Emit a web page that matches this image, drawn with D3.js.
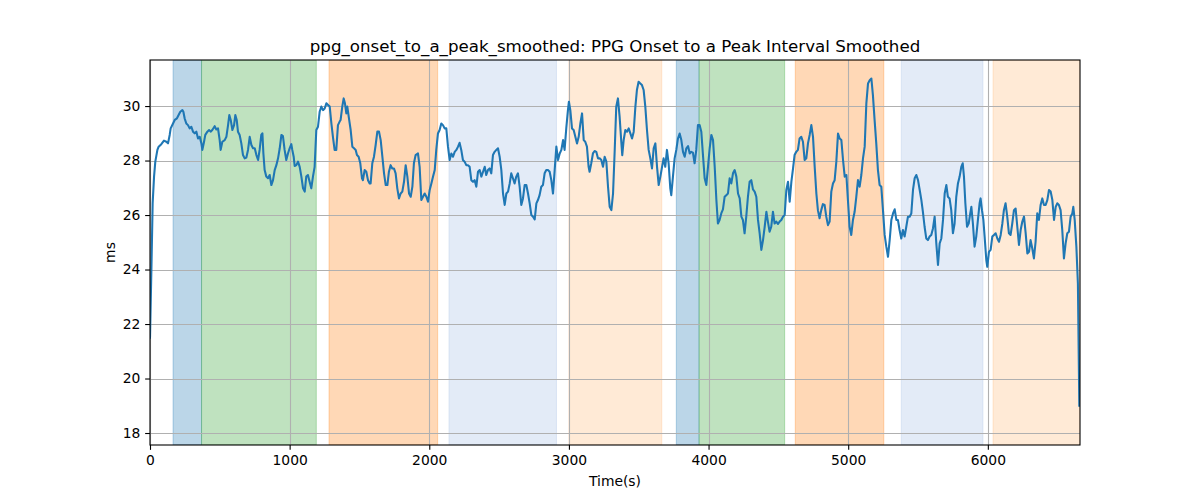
<!DOCTYPE html>
<html>
<head>
<meta charset="utf-8">
<script src="https://cdn.jsdelivr.net/npm/d3@7"></script>
<style>
  html, body { margin: 0; padding: 0; background: #fff; }
  svg { display: block; font-family: "DejaVu Sans", sans-serif; }
</style>
</head>
<body>
<svg id="chart" width="1200" height="500"></svg>
<script>
// ---------- data ----------
const chartTitle = "ppg_onset_to_a_peak_smoothed: PPG Onset to a Peak Interval Smoothed";
const xLabel = "Time(s)";
const yLabel = "ms";
const xTicks = [0, 1000, 2000, 3000, 4000, 5000, 6000];
const yTicks = [18, 20, 22, 24, 26, 28, 30];
const xDomain = [0, 6660];
const yDomain = [17.56, 31.69];

// shaded intervals: start, end, category
const spanStarts = [165, 369, 1282, 2141, 3000, 3769, 3932, 4621, 5380, 6037];
const spanEnds   = [369, 1191, 2060, 2911, 3665, 3932, 4545, 5255, 5965, 6660];
const spanKinds  = ["blue", "green", "orange", "lightblue", "lightorange", "blue", "green", "orange", "lightblue", "lightorange"];

// [time (s), value (ms)]
const ppgSeries = [
[0,21.5],[10,24.0],[19,26.43],[29,27.41],[38,27.96],[53,28.39],[62,28.51],[81,28.60],[100,28.73],[117,28.69],[129,28.63],[141,28.94],[148,29.18],[165,29.36],[177,29.49],[193,29.55],[205,29.67],[217,29.79],[232,29.85],[239,29.79],[248,29.55],[260,29.36],[272,29.30],[284,29.18],[296,29.24],[308,29.06],[320,29.00],[332,29.06],[344,28.81],[356,28.87],[368,28.63],[375,28.39],[387,28.69],[396,28.94],[411,29.06],[423,29.12],[434,29.06],[446,29.12],[463,29.26],[475,29.14],[487,29.18],[499,28.75],[506,28.39],[518,28.69],[535,28.75],[547,28.87],[559,29.30],[568,29.67],[578,29.49],[590,29.12],[602,29.30],[611,29.67],[621,29.49],[630,29.06],[642,28.94],[654,28.63],[666,28.20],[678,28.08],[690,28.11],[702,28.39],[714,28.87],[726,28.57],[738,28.45],[750,28.45],[762,28.20],[774,28.02],[785,28.39],[797,28.94],[805,29.00],[812,28.26],[821,27.65],[833,27.41],[845,27.35],[857,27.47],[869,27.10],[881,27.28],[893,27.65],[905,27.83],[917,28.08],[929,28.45],[941,28.94],[952,28.90],
[964,28.39],[976,28.02],[988,28.26],[1000,28.45],[1012,28.60],[1019,28.39],[1029,28.14],[1036,27.80],[1048,27.83],[1060,27.96],[1072,27.77],[1084,27.41],[1096,26.98],[1108,26.86],[1119,27.41],[1131,27.47],[1143,27.22],[1155,26.98],[1167,27.41],[1179,27.77],[1191,29.12],[1203,29.24],[1215,29.79],[1227,29.98],[1239,29.85],[1251,29.91],[1263,30.10],[1275,30.04],[1287,29.98],[1299,29.36],[1310,28.87],[1322,28.39],[1334,28.39],[1346,29.30],[1358,29.43],[1365,29.49],[1377,29.98],[1387,30.28],[1396,30.10],[1406,29.73],[1413,29.98],[1423,29.61],[1437,29.12],[1449,28.51],[1461,28.45],[1473,28.39],[1482,28.20],[1494,28.14],[1506,27.90],[1518,27.35],[1525,27.28],[1537,27.65],[1549,27.59],[1561,27.28],[1573,27.16],[1580,27.16],[1592,27.90],[1604,28.14],[1616,28.57],[1628,29.06],[1640,29.06],[1652,28.75],[1664,28.14],[1676,27.53],[1688,27.10],[1700,27.10],[1711,27.59],[1723,27.83],[1735,27.71],[1747,27.71],[1759,27.53],[1771,26.98],[1783,26.61],[1795,26.79],[1807,26.86],[1819,27.22],[1831,27.83],[1843,27.41],[1855,26.79],[1867,26.67],[1879,27.04],[1890,27.90],[1902,28.20],[1919,28.26],
[1931,27.77],[1943,26.55],[1955,26.67],[1967,26.79],[1979,26.67],[1991,26.49],[2003,26.92],[2015,27.16],[2027,27.41],[2039,27.65],[2050,28.39],[2062,28.99],[2074,29.12],[2086,29.36],[2098,29.30],[2110,29.18],[2122,29.18],[2134,28.51],[2146,28.02],[2158,28.26],[2170,28.14],[2182,28.32],[2194,28.39],[2206,28.51],[2217,28.65],[2229,28.39],[2241,28.02],[2253,27.96],[2265,27.83],[2277,27.83],[2289,27.77],[2301,27.28],[2313,27.22],[2325,27.28],[2337,27.04],[2349,27.59],[2361,27.65],[2373,27.41],[2385,27.59],[2397,27.77],[2408,27.47],[2420,27.65],[2432,27.71],[2444,27.53],[2456,28.20],[2468,28.32],[2480,28.39],[2492,28.45],[2504,28.14],[2516,27.65],[2528,26.79],[2540,26.37],[2552,26.79],[2564,26.86],[2576,27.16],[2587,27.53],[2599,27.35],[2611,27.16],[2623,27.41],[2635,27.53],[2647,27.04],[2659,26.37],[2671,26.61],[2683,27.10],[2695,27.10],[2707,26.79],[2719,26.43],[2731,26.00],[2743,25.94],[2755,25.84],[2767,26.43],[2778,26.55],[2790,26.73],[2802,27.04],[2814,27.10],[2826,27.53],[2838,27.65],[2850,27.65],[2862,27.59],[2874,27.28],[2886,26.79],
[2898,27.65],[2910,28.51],[2922,28.02],[2934,28.26],[2946,28.39],[2958,28.75],[2969,28.39],[2981,29.18],[2993,29.85],[3000,30.16],[3010,29.85],[3022,29.18],[3034,29.12],[3046,28.87],[3058,28.63],[3070,28.87],[3082,29.36],[3094,29.73],[3106,28.75],[3117,28.69],[3129,28.51],[3141,27.77],[3148,27.59],[3160,27.90],[3172,28.26],[3184,28.35],[3196,28.32],[3208,28.08],[3220,28.08],[3232,28.02],[3244,27.77],[3256,28.14],[3268,27.96],[3280,27.04],[3292,26.30],[3304,26.18],[3316,26.79],[3328,28.39],[3339,29.98],[3351,30.28],[3363,29.61],[3375,28.69],[3382,28.20],[3392,28.75],[3404,29.12],[3416,29.06],[3428,29.18],[3440,29.00],[3452,28.81],[3464,29.06],[3476,29.98],[3487,30.59],[3499,30.89],[3511,30.83],[3523,30.77],[3535,30.59],[3547,29.98],[3559,29.12],[3571,28.39],[3583,28.08],[3595,27.71],[3607,28.45],[3619,28.63],[3631,27.77],[3643,27.10],[3655,27.41],[3667,27.77],[3678,28.08],[3690,27.77],[3702,28.39],[3714,27.90],[3726,26.98],[3733,26.73],[3745,27.41],[3757,28.08],[3769,28.39],[3781,28.81],[3793,28.99],[3805,28.75],[3817,28.32],[3829,28.14],[3841,28.45],[3853,28.53],
[3865,28.26],[3876,28.32],[3888,28.29],[3900,27.90],[3912,28.39],[3924,29.30],[3936,29.30],[3948,29.06],[3960,28.20],[3972,27.35],[3984,27.10],[3996,27.77],[4008,28.45],[4020,28.94],[4032,28.75],[4044,27.77],[4056,26.55],[4067,25.69],[4079,25.82],[4091,26.06],[4103,26.21],[4115,26.67],[4127,26.73],[4139,26.79],[4151,27.35],[4163,27.16],[4175,27.53],[4187,27.65],[4199,27.41],[4211,26.79],[4223,26.61],[4235,25.94],[4246,25.82],[4258,25.33],[4270,25.94],[4282,26.67],[4294,27.22],[4306,27.28],[4318,26.94],[4330,26.86],[4342,26.67],[4354,25.82],[4366,25.33],[4378,24.72],[4390,25.08],[4402,25.57],[4414,26.12],[4425,25.76],[4437,25.39],[4449,25.57],[4461,26.12],[4473,25.69],[4485,25.76],[4497,25.67],[4509,25.76],[4521,25.82],[4533,25.94],[4545,26.00],[4557,26.92],[4569,27.22],[4581,26.49],[4593,27.22],[4605,27.71],[4616,28.20],[4628,28.32],[4640,28.39],[4652,28.81],[4664,28.87],[4676,28.69],[4688,28.02],[4700,28.08],[4712,28.63],[4724,28.94],[4736,29.30],[4748,28.87],[4760,27.77],[4772,26.79],[4783,26.18],[4795,25.88],[4807,26.18],[4819,26.40],
[4831,26.37],[4843,25.94],[4855,25.63],[4867,25.76],[4879,26.86],[4891,27.16],[4903,27.28],[4915,27.96],[4927,28.99],[4939,28.81],[4951,28.75],[4963,28.02],[4975,27.41],[4987,27.47],[4998,26.55],[5010,25.57],[5022,25.27],[5034,25.82],[5046,26.12],[5058,26.67],[5070,27.28],[5082,27.04],[5094,27.47],[5106,28.08],[5118,28.51],[5130,30.10],[5142,30.83],[5154,30.95],[5166,31.01],[5177,30.40],[5189,29.49],[5201,28.63],[5213,27.65],[5225,27.10],[5237,27.04],[5249,26.18],[5261,25.27],[5273,24.84],[5285,24.47],[5297,25.08],[5309,25.82],[5321,26.06],[5333,26.21],[5345,25.82],[5356,25.82],[5368,25.45],[5380,25.14],[5392,25.45],[5404,25.21],[5416,25.57],[5428,25.94],[5440,25.94],[5452,26.06],[5464,26.92],[5476,27.35],[5488,27.47],[5500,27.28],[5512,26.92],[5524,26.55],[5535,26.12],[5547,25.57],[5559,25.14],[5571,25.08],[5583,25.21],[5595,25.27],[5607,25.51],[5619,25.94],[5631,24.96],[5643,24.17],[5655,24.96],[5667,25.14],[5679,25.82],[5691,26.79],[5703,27.10],[5714,26.67],[5726,26.61],[5738,26.18],[5750,25.33],[5762,25.69],[5774,26.67],[5786,27.16],
[5798,27.41],[5810,27.77],[5820,27.90],[5829,27.41],[5839,26.43],[5851,25.57],[5863,25.69],[5874,26.06],[5882,26.30],[5893,25.69],[5905,24.84],[5917,25.21],[5929,25.82],[5941,26.43],[5948,26.61],[5958,26.18],[5968,25.82],[5977,25.21],[5989,24.35],[5996,24.10],[6008,24.65],[6020,24.72],[6032,25.21],[6044,25.27],[6056,25.33],[6068,25.14],[6080,25.02],[6092,25.27],[6104,25.69],[6115,26.18],[6127,26.43],[6139,25.94],[6151,25.33],[6163,25.27],[6175,25.69],[6187,26.18],[6199,26.24],[6211,25.57],[6223,24.90],[6235,25.45],[6247,25.76],[6259,25.94],[6271,25.33],[6283,24.59],[6295,24.65],[6306,25.08],[6318,24.78],[6330,24.41],[6342,25.02],[6354,26.06],[6366,25.82],[6378,26.37],[6390,26.61],[6402,26.37],[6414,26.37],[6426,26.55],[6438,26.92],[6450,26.86],[6462,26.55],[6474,25.82],[6486,26.30],[6497,26.43],[6509,26.37],[6521,26.18],[6533,25.45],[6545,24.41],[6557,24.96],[6569,25.33],[6581,25.39],[6593,25.94],[6605,26.06],[6612,26.30],[6622,25.82],[6634,24.84],[6645,23.49],[6655,19.0]
];

// ---------- styles ----------
const spanStyle = {
  blue:        { color: "#1f77b4", opacity: 0.3 },
  green:       { color: "#2ca02c", opacity: 0.3 },
  orange:      { color: "#ff7f0e", opacity: 0.3 },
  lightblue:   { color: "#aec7e8", opacity: 0.35 },
  lightorange: { color: "#ffbb78", opacity: 0.3 }
};

const margin = { left: 150, right: 120, top: 60, bottom: 55 };
const W = 1200, H = 500;
const iw = W - margin.left - margin.right;   // 930
const ih = H - margin.top - margin.bottom;   // 385

const svg = d3.select("#chart");
const g = svg.append("g").attr("transform", `translate(${margin.left},${margin.top})`);

const x = d3.scaleLinear().domain(xDomain).range([0, iw]);
const y = d3.scaleLinear().domain(yDomain).range([ih, 0]);

const clipId = "plotclip";
svg.append("defs").append("clipPath").attr("id", clipId)
  .append("rect").attr("x", 0).attr("y", 0).attr("width", iw).attr("height", ih);

const plot = g.append("g").attr("clip-path", `url(#${clipId})`);

// spans
const spans = spanStarts.map((s, i) => ({ s, e: spanEnds[i], k: spanKinds[i] }));
plot.selectAll("rect.span").data(spans).join("rect")
  .attr("class", "span")
  .attr("x", d => x(d.s))
  .attr("y", 0)
  .attr("width", d => x(d.e) - x(d.s))
  .attr("height", ih)
  .attr("fill", d => spanStyle[d.k].color)
  .attr("fill-opacity", d => spanStyle[d.k].opacity)
  .attr("stroke", d => spanStyle[d.k].color)
  .attr("stroke-opacity", d => spanStyle[d.k].opacity)
  .attr("stroke-width", 1);

// grid
plot.selectAll("line.gx").data(xTicks).join("line")
  .attr("class", "gx")
  .attr("x1", d => Math.round(x(d)) + 0.5).attr("x2", d => Math.round(x(d)) + 0.5)
  .attr("y1", 0).attr("y2", ih)
  .attr("stroke", "#b0b0b0").attr("stroke-width", 1.1);
plot.selectAll("line.gy").data(yTicks).join("line")
  .attr("class", "gy")
  .attr("x1", 0).attr("x2", iw)
  .attr("y1", d => Math.round(y(d)) + 0.5).attr("y2", d => Math.round(y(d)) + 0.5)
  .attr("stroke", "#b0b0b0").attr("stroke-width", 1.1);

// line
const line = d3.line().x(d => x(d[0])).y(d => y(d[1])).curve(d3.curveLinear);
plot.append("path").datum(ppgSeries)
  .attr("d", line)
  .attr("fill", "none")
  .attr("stroke", "#1f77b4")
  .attr("stroke-width", 2.08)
  .attr("stroke-linejoin", "round")
  .attr("stroke-linecap", "square");

// axes
const xAxis = d3.axisBottom(x).tickValues(xTicks).tickFormat(d3.format("d")).tickSizeOuter(0).tickSize(4.86).tickPadding(4.86);
const yAxis = d3.axisLeft(y).tickValues(yTicks).tickFormat(d3.format("d")).tickSizeOuter(0).tickSize(4.86).tickPadding(4.86);

const gx = g.append("g").attr("transform", `translate(0,${ih})`).call(xAxis);
const gy = g.append("g").call(yAxis);
[gx, gy].forEach(a => {
  a.select(".domain").remove();
  a.selectAll(".tick line").attr("stroke", "#000").attr("stroke-width", 1.1);
  a.selectAll(".tick text").attr("fill", "#000").style("font-size", "13.89px").style("font-family", "DejaVu Sans");
});

// frame
g.append("rect").attr("x", 0).attr("y", 0).attr("width", iw).attr("height", ih)
  .attr("fill", "none").attr("stroke", "#000").attr("stroke-width", 1.1);

// labels
svg.append("text").attr("x", margin.left + iw / 2).attr("y", 52)
  .attr("text-anchor", "middle").style("font-size", "16.67px").attr("fill", "#000")
  .text(chartTitle);
svg.append("text").attr("x", margin.left + iw / 2).attr("y", 486)
  .attr("text-anchor", "middle").style("font-size", "13.89px").attr("fill", "#000")
  .text(xLabel);
svg.append("text").attr("transform", `translate(115,${margin.top + ih / 2}) rotate(-90)`)
  .attr("text-anchor", "middle").style("font-size", "13.89px").attr("fill", "#000")
  .text(yLabel);
</script>
</body>
</html>
